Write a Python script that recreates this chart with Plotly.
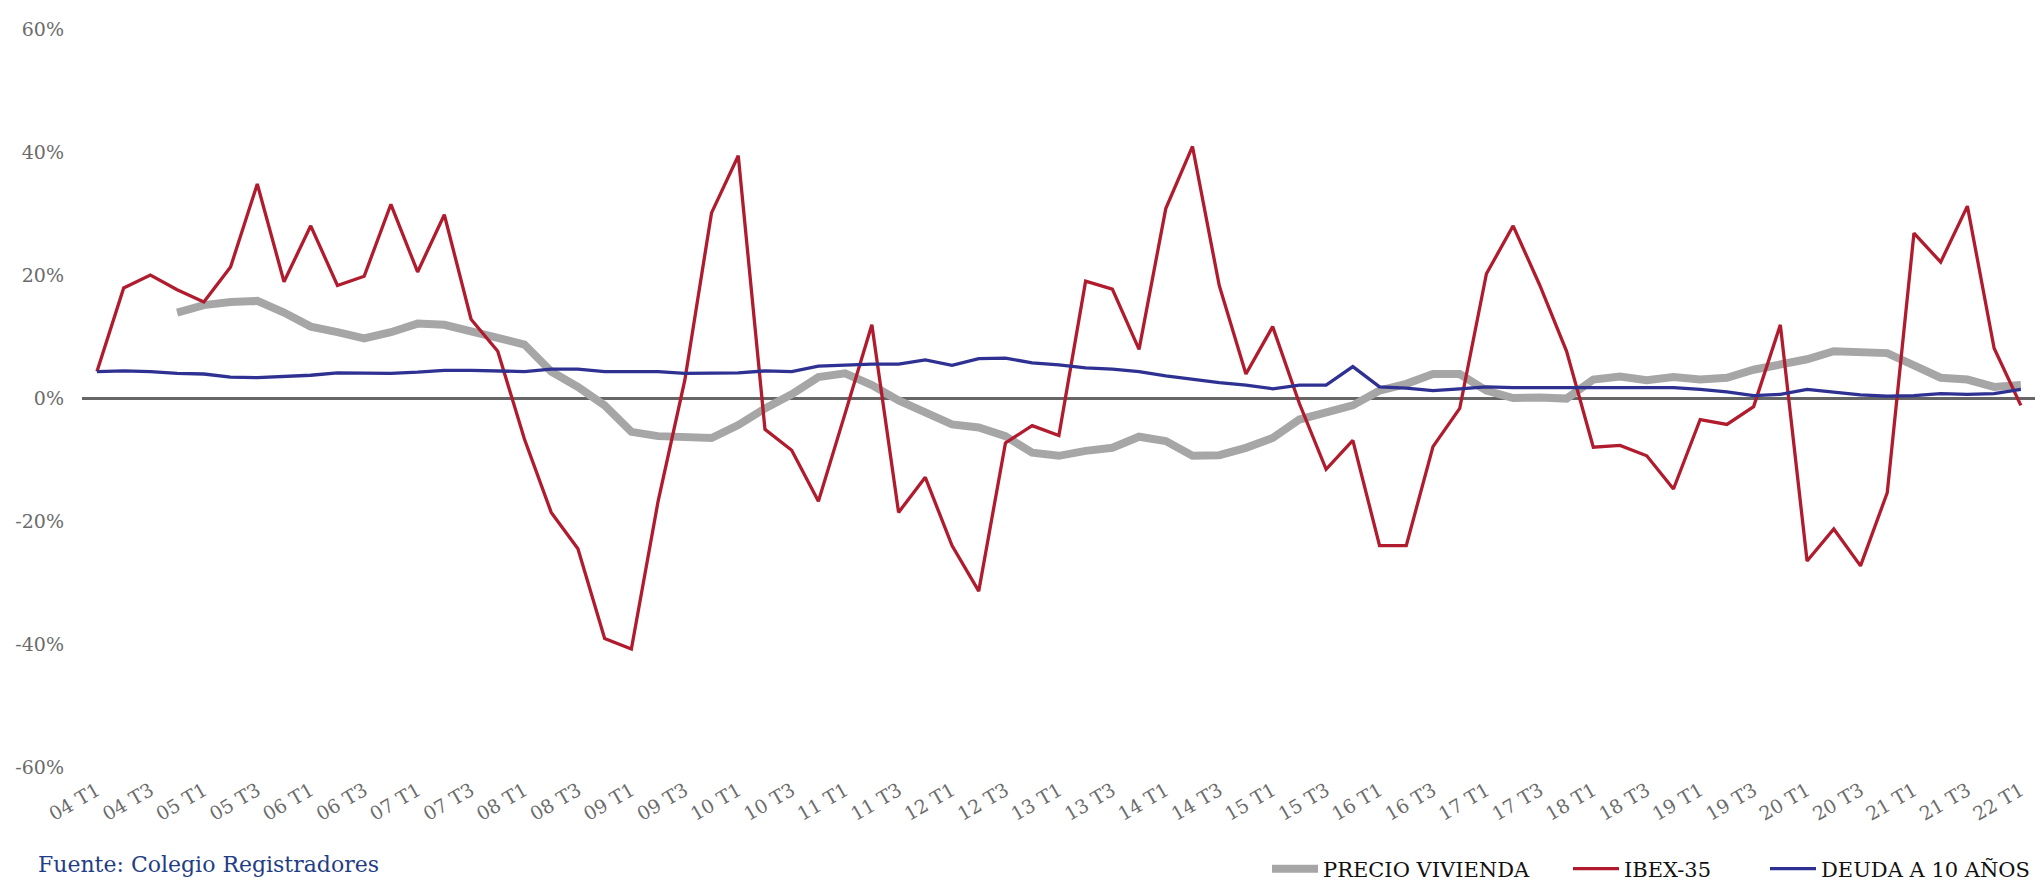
import plotly.graph_objects as go

years = [f"{y:02d}" for y in range(4, 23)]
quarters = [f"{y} T{q}" for y in years for q in (1, 2, 3, 4)][:73]  # 04 T1 ... 22 T1
tick_labels = quarters[::2]

precio_vivienda = [None, None, None,
    13.9, 15.1, 15.6, 15.8, 13.9, 11.6, 10.7, 9.7, 10.7, 12.1, 11.9, 10.9, 9.6, 8.7,
    4.3, 1.8, -1.2, -5.5, -6.2, -6.5, -6.5, -4.4, -1.7, 0.6, 3.4, 4.0, 2.1, -0.4,
    -2.4, -4.3, -4.8, -6.2, -8.9, -9.4, -8.6, -8.1, -6.3, -7.0, -9.4, -9.3, -8.1, -6.5,
    -3.5, -2.4, -1.2, 1.2, 2.3, 3.9, 3.9, 1.2, 0.0, 0.1, -0.1, 3.0, 3.5, 2.9, 3.4,
    3.0, 3.3, 4.6, 5.3, 6.3, 7.6, 7.4, 7.3, 5.3, 3.3, 3.0, 1.8, 2.1]

ibex35 = [4.3, 17.9, 20.0, 17.6, 15.6, 21.3, 34.8, 18.9, 28.0, 18.3, 19.8, 31.5, 20.5,
    29.8, 12.8, 7.6, -6.7, -18.6, -24.5, -39.1, -40.8, -16.8, 2.9, 30.1, 39.4, -5.1,
    -8.5, -16.8, -2.5, 11.9, -18.6, -12.9, -24.0, -31.4, -7.3, -4.5, -6.1, 19.0, 17.7,
    7.9, 30.8, 40.9, 18.3, 3.9, 11.6, -0.9, -11.6, -6.9, -24.0, -24.0, -7.9, -1.7,
    20.2, 28.0, 18.3, 7.6, -8.0, -7.7, -9.4, -14.8, -3.5, -4.3, -1.4, 11.9, -26.5,
    -21.3, -27.3, -15.4, 26.8, 22.1, 31.2, 8.1, -1.2]

deuda_10 = [4.3, 4.4, 4.3, 4.0, 3.9, 3.4, 3.3, 3.5, 3.7, 4.1, 4.0, 4.0, 4.2, 4.5, 4.5,
    4.4, 4.3, 4.7, 4.7, 4.3, 4.3, 4.3, 4.0, 4.0, 4.1, 4.4, 4.3, 5.2, 5.4, 5.5, 5.5,
    6.2, 5.3, 6.4, 6.5, 5.7, 5.4, 4.9, 4.7, 4.3, 3.6, 3.0, 2.5, 2.1, 1.5, 2.1, 2.1,
    5.1, 1.8, 1.6, 1.2, 1.5, 1.8, 1.7, 1.7, 1.7, 1.6, 1.6, 1.7, 1.7, 1.4, 1.0, 0.4,
    0.6, 1.4, 0.9, 0.5, 0.3, 0.4, 0.7, 0.6, 0.7, 1.4]

y_ticks = [-60, -40, -20, 0, 20, 40, 60]

FONT = "DejaVu Serif"
TICK_COLOR = "#6b6b6b"

fig = go.Figure()
fig.add_trace(go.Scatter(x=quarters, y=[None if v is None else v / 100 for v in precio_vivienda],
                         mode="lines", name="PRECIO VIVIENDA", legendwidth=240,
                         line=dict(color="#a6a6a6", width=8)))
fig.add_trace(go.Scatter(x=quarters, y=[v / 100 for v in ibex35], mode="lines", name="IBEX-35",
                         legendwidth=136, line=dict(color="#b01c2e", width=3.3)))
fig.add_trace(go.Scatter(x=quarters, y=[v / 100 for v in deuda_10], mode="lines",
                         name="DEUDA A 10 AÑOS", line=dict(color="#2e3192", width=3.3)))

fig.update_layout(
    width=2040, height=885,
    margin=dict(l=82, r=5, t=29, b=118),
    paper_bgcolor="white", plot_bgcolor="white",
    font=dict(family=FONT, color=TICK_COLOR, size=19),
    showlegend=True,
    legend=dict(orientation="h", x=1.0, xanchor="right", yref="container", y=0.018,
                yanchor="middle", font=dict(family=FONT, size=21, color="#111111"),
                traceorder="normal", itemwidth=46),
    hovermode=False,
)
fig.update_xaxes(type="category", range=[-0.56, 72.53], tickmode="array",
                 tickvals=tick_labels, ticktext=tick_labels, tickangle=-30,
                 showgrid=False, showline=False, zeroline=False, ticks="",
                 tickfont=dict(family=FONT, size=19, color=TICK_COLOR), ticklabelstandoff=8)
fig.update_yaxes(range=[-0.6, 0.6], tickmode="array", tickvals=[v / 100 for v in y_ticks],
                 ticktext=[f"{v}%" for v in y_ticks], showgrid=False, showline=False,
                 zeroline=True, zerolinecolor="#666666", zerolinewidth=2.5, ticks="",
                 tickfont=dict(family=FONT, size=19, color=TICK_COLOR), ticklabelstandoff=17)

fig.add_annotation(text="Fuente: Colegio Registradores", xref="paper", yref="paper",
                   x=(36 - 82) / 1953, y=(767 - 864) / 738, xanchor="left", yanchor="middle",
                   showarrow=False, font=dict(family=FONT, size=22, color="#1f3e85"))

fig.write_html("out.html", config={"displayModeBar": False},
               post_script="document.body.style.margin='0px';")
